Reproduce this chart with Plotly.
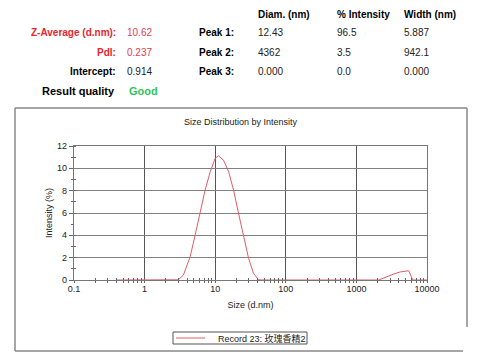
import plotly.graph_objects as go

# ---- data ----
size_nm = [0.4, 1.0, 2.7, 3.0, 3.55, 4.42, 5.2, 6.12, 7.2, 8.5, 10.0, 11.1, 13.1, 15.5,
           18.2, 21.4, 25.2, 29.7, 34.9, 41.0, 50.0, 100.0, 1000.0, 2075.0, 3390.0,
           4170.0, 5520.0, 6300.0, 7000.0, 10000.0]
intensity = [0, 0, 0, 0.02, 0.45, 2.09, 4.03, 5.97, 8.06, 9.7, 10.9, 11.13, 10.74, 9.7,
             8.06, 5.97, 3.88, 1.94, 0.6, 0.02, 0, 0, 0, 0, 0.54,
             0.72, 0.83, 0, 0, 0]
series_name = "Record 23: 玫瑰香精2"

x_tickvals = [0.1, 1, 10, 100, 1000, 10000]
x_ticktext = ["0.1", "1", "10", "100", "1000", "10000"]
y_tickvals = [0, 2, 4, 6, 8, 10, 12]

header_cols = ["Diam. (nm)", "% Intensity", "Width (nm)"]
peak_labels = ["Peak 1:", "Peak 2:", "Peak 3:"]
peak_diam = ["12.43", "4362", "0.000"]
peak_int = ["96.5", "3.5", "0.0"]
peak_width = ["5.887", "942.1", "0.000"]
summary_labels = ["Z-Average (d.nm):", "PdI:", "Intercept:"]
summary_values = ["10.62", "0.237", "0.914"]
quality_label = "Result quality"
quality_value = "Good"

# ---- layout geometry (reference pixels; page body adds an 8px margin) ----
OFF = 8
W, H = 481 - OFF, 359 - OFF
L, R, T, B = 74, 427, 146, 280
PW, PH = R - L, B - T
def px(x):
    return (x - L) / PW
def py(y):
    return (B - y) / PH

FONT = "Liberation Sans, Arial, sans-serif"
RED = "#e8262c"
RED2 = "#e23a52"
GREEN = "#2fc45a"

fig = go.Figure()
fig.add_trace(go.Scatter(x=size_nm, y=intensity, mode="lines",
                         line=dict(color="#e25c66", width=1),
                         name=series_name, showlegend=False, hoverinfo="skip"))
fig.add_trace(go.Scatter(x=[None], y=[None], xaxis="x2", yaxis="y2",
                         showlegend=False, hoverinfo="skip"))

axis_font = dict(family=FONT, size=9, color="#222")
fig.update_layout(
    width=W, height=H,
    margin=dict(l=L - OFF, r=481 - R, t=T - OFF, b=359 - B, pad=0),
    paper_bgcolor="white", plot_bgcolor="white",
    xaxis=dict(type="log", range=[-1, 4], tickvals=x_tickvals, ticktext=x_ticktext,
               showgrid=True, gridcolor="#555", gridwidth=1.2,
               showline=True, linecolor="#777", linewidth=1.2, mirror=True,
               ticks="", tickfont=axis_font,
               minor=dict(ticks="outside", ticklen=2, tickcolor="#666", dtick="D1",
                          showgrid=False),
               title=dict(text="Size (d.nm)", font=dict(family=FONT, size=9, color="#222"),
                          standoff=8),
               zeroline=False),
    yaxis=dict(range=[0, 12], tickvals=y_tickvals,
               showgrid=True, gridcolor="#808080", gridwidth=1.2,
               showline=True, linecolor="#777", linewidth=1.2, mirror=True,
               ticks="outside", ticklen=4, tickcolor="#666", tickfont=axis_font,
               minor=dict(ticks="outside", ticklen=2, tickcolor="#666", dtick=1,
                          showgrid=False),
               title=dict(text="Intensity (%)", font=dict(family=FONT, size=9, color="#222"),
                          standoff=2),
               zeroline=False),
    xaxis2=dict(type="log", range=[-1, 4], overlaying="x", showgrid=False,
                showticklabels=False, ticks="", zeroline=False,
                minor=dict(ticks="inside", ticklen=2, tickcolor="#666", dtick="D1",
                           showgrid=False)),
    yaxis2=dict(range=[0, 12], overlaying="y", showgrid=False, showticklabels=False,
                ticks="", zeroline=False,
                minor=dict(ticks="inside", ticklen=2, tickcolor="#666", dtick=1,
                           showgrid=False)),
)

ann = []
def text(x, y, s, anchor="left", size=10, color="black", bold=False, family=FONT):
    if bold:
        s = "<b>" + s + "</b>"
    ann.append(dict(x=px(x), y=py(y), xref="paper", yref="paper", text=s,
                    showarrow=False, xanchor=anchor, yanchor="middle",
                    font=dict(family=family, size=size, color=color)))

# header table
col_x = [256, 335, 402]
for cx, h in zip(col_x, header_cols):
    text(cx, 14, h, bold=True)
rows_y = [32.5, 52, 71]
sum_colors = [(RED, RED2), (RED, RED2), ("black", "#222")]
for ry, lab, val, (c1, c2) in zip(rows_y, summary_labels, summary_values, sum_colors):
    text(118, ry, lab, anchor="right", bold=True, color=c1)
    text(125, ry, val, color=c2)
for ry, pl, d, i, w in zip(rows_y, peak_labels, peak_diam, peak_int, peak_width):
    text(236, ry, pl, anchor="right", bold=True)
    text(256, ry, d, color="#222")
    text(335, ry, i, color="#222")
    text(402, ry, w, color="#222")
text(117, 91, quality_label, anchor="right", bold=True, size=11)
text(127, 91, quality_value, bold=True, color=GREEN, size=11)

# chart title
text(241, 122, "Size Distribution by Intensity", anchor="center", size=9, color="#222")

# legend entry text
text(216, 338, series_name, size=9, color="#222",
     family="Liberation Sans, Arial, Noto Sans CJK SC, sans-serif")

fig.update_layout(annotations=ann)

shapes = []
def line(x0, y0, x1, y1, color="#888", width=1.5):
    shapes.append(dict(type="line", xref="paper", yref="paper",
                       x0=px(x0), y0=py(y0), x1=px(x1), y1=py(y1),
                       line=dict(color=color, width=width)))
# outer frame
line(15, 108, 467, 108)
line(15, 108, 15, 351)
line(467, 108, 467, 327)
line(15, 351, 463, 351)
# legend box and sample
shapes.append(dict(type="rect", xref="paper", yref="paper",
                   x0=px(173), y0=py(332), x1=px(307), y1=py(344),
                   line=dict(color="#555", width=1)))
line(176, 338, 205, 338, color="#e25c66", width=1)
fig.update_layout(shapes=shapes)

fig.write_html("out.html")
